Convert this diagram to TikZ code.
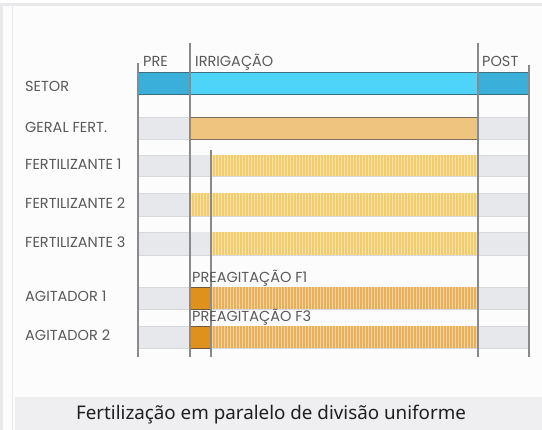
\documentclass[tikz,border=0pt]{standalone}
\usepackage{fontspec}
\newfontfamily\lblfont{Poppins}[UprightFont=*-Regular]
\newfontfamily\capfont{Noto Sans}
\definecolor{bgc}{HTML}{FCFCFC}
\definecolor{framec}{HTML}{E9E9EB}
\definecolor{capbg}{HTML}{EFEFF1}
\definecolor{txtc}{HTML}{5A5A5A}
\definecolor{gridc}{HTML}{D6D8DB}
\definecolor{bandc}{HTML}{E6E8EB}
\definecolor{vlinec}{HTML}{8A8A8A}
\definecolor{blueA}{HTML}{3AAFD9}
\definecolor{blueB}{HTML}{4DD4F8}
\definecolor{blueO}{HTML}{3D6E80}
\definecolor{geralc}{HTML}{EEC47F}
\definecolor{geralo}{HTML}{7A6E5E}
\definecolor{yelc}{HTML}{F2CB6E}
\definecolor{yels}{HTML}{F9E4AA}
\definecolor{agc}{HTML}{E8B05A}
\definecolor{ags}{HTML}{F4D4A0}
\definecolor{agbox}{HTML}{E0901C}
\definecolor{agboxo}{HTML}{6E5A3A}
\tikzset{
  lbl/.style={font=\lblfont\fontsize{14.5}{16}\selectfont, text=txtc, inner sep=0pt, anchor=base west},
  vline/.style={draw=vlinec, line width=1.1pt},
  gridl/.style={draw=gridc, line width=0.6pt},
}
\newcommand\stripebar[5]{%
  \pgfmathsetmacro\sa{#1+1.5}\pgfmathsetmacro\sb{#1+4.5}%
  \fill[#5] (#1,#3) rectangle (#2,#4);
  \foreach \xx in {\sa,\sb,...,#2} {\draw[draw=#5s, line width=0.9pt] (\xx,#3) -- (\xx,#4);}
}
\colorlet{yelcs}{yels}
\colorlet{agcs}{ags}
\begin{document}
\begin{tikzpicture}[x=1pt,y=-1pt]
\useasboundingbox (0,0) rectangle (542,430);
\fill[framec] (0,3) rectangle (542,430);
\fill[bgc] (3,6) rectangle (542,430);
\draw[framec, line width=0.8pt] (12,6) -- (12,430);
% caption
\fill[capbg] (15,397) rectangle (542,430);
\node[font=\capfont\fontsize{18.8}{20}\selectfont, text=black!88, inner sep=0pt, anchor=base] (cap) at (271,420) {Fertilização em paralelo de divisão uniforme};
% row bands (gray in PRE / POST) and grid lines
\foreach \t/\b in {117/139,155/176,193/216,232/255,287/309,326/348} {
  \fill[bandc] (138,\t) rectangle (190,\b);
  \fill[bandc] (478,\t) rectangle (529,\b);
  \draw[gridl] (138,\t) -- (529,\t);
  \draw[gridl] (138,\b) -- (529,\b);
}
\draw[gridl] (138,72) -- (529,72);
\draw[gridl] (138,94) -- (529,94);
% extra gray before fert start
\fill[bandc] (190,155) rectangle (211,176);
\fill[bandc] (190,232) rectangle (211,255);
% SETOR
\fill[blueA] (138,72) rectangle (190,94);
\fill[blueB] (190,72) rectangle (478,94);
\fill[blueA] (478,72) rectangle (529,94);
\draw[blueO, line width=0.9pt] (138,72) rectangle (529,94);
% GERAL FERT
\draw[fill=geralc, draw=geralo, line width=0.9pt] (190,117) rectangle (478,139);
% fertilizers
\stripebar{211}{478}{155}{176}{yelc}
\stripebar{190}{478}{193}{216}{yelc}
\stripebar{211}{478}{232}{255}{yelc}
% agitators
\stripebar{211}{478}{287}{309}{agc}
\stripebar{211}{478}{326}{348}{agc}
\draw[fill=agbox, draw=agboxo, line width=0.9pt] (190,287) rectangle (211,309);
\draw[fill=agbox, draw=agboxo, line width=0.9pt] (190,326) rectangle (211,348);
% vertical lines
\coordinate (v1t) at (138,63); \coordinate (v1b) at (138,357);
\coordinate (v2t) at (190,43); \coordinate (v2b) at (190,357);
\coordinate (v3t) at (211,150); \coordinate (v3b) at (211,357);
\coordinate (v4t) at (478,43); \coordinate (v4b) at (478,357);
\coordinate (v5t) at (529,65); \coordinate (v5b) at (529,357);
\draw[vline] (v1t) -- (v1b);
\draw[vline] (v2t) -- (v2b);
\draw[vline] (v3t) -- (v3b);
\draw[vline] (v4t) -- (v4b);
\draw[vline] (v5t) -- (v5b);
% headers
\node[lbl] (hpre) at (143,67) {PRE};
\node[lbl] (hirr) at (195,67) {IRRIGAÇÃO};
\node[lbl] (hpost) at (482,67) {POST};
% row labels
\node[lbl] (l1) at (25,92) {SETOR};
\node[lbl] (l2) at (25,133) {GERAL FERT.};
\node[lbl] (l3) at (25,170) {FERTILIZANTE 1};
\node[lbl] (l4) at (25,209) {FERTILIZANTE 2};
\node[lbl] (l5) at (25,248) {FERTILIZANTE 3};
\node[lbl] (l6) at (25,302) {AGITADOR 1};
\node[lbl] (l7) at (25,341) {AGITADOR 2};
\node[lbl] (p1) at (192,283) {PREAGITAÇÃO F1};
\node[lbl] (p3) at (192,322) {PREAGITAÇÃO F3};
\end{tikzpicture}
\end{document}
